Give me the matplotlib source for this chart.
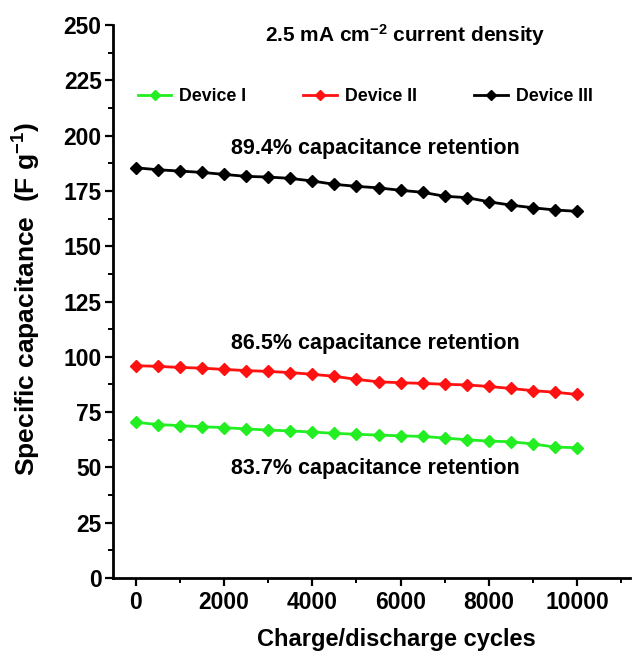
import numpy as np
import matplotlib.pyplot as plt
from matplotlib.ticker import MultipleLocator

plt.rcParams["font.family"] = ["Liberation Sans", "DejaVu Sans"]
plt.rcParams["font.weight"] = "bold"
plt.rcParams["mathtext.default"] = "regular"

cycles = np.arange(0, 10001, 500)
device_1 = [70.4, 69.4, 68.9, 68.4, 68.0, 67.4, 66.9, 66.5, 66.0, 65.4, 65.0,
            64.6, 64.3, 64.0, 63.3, 62.5, 61.9, 61.6, 60.6, 59.2, 58.9]
device_2 = [96.0, 95.7, 95.2, 94.9, 94.3, 93.8, 93.4, 92.9, 92.1, 91.2, 89.8,
            88.7, 88.3, 88.0, 87.6, 87.3, 86.6, 85.7, 84.7, 84.0, 83.0]
device_3 = [185.5, 184.6, 184.0, 183.4, 182.5, 181.6, 181.3, 180.7, 179.5, 178.0, 177.1,
            176.4, 175.3, 174.4, 172.6, 172.0, 170.1, 168.6, 167.4, 166.4, 165.8]
labels = ["Device I", "Device II", "Device III"]
colors = ["#22ee22", "#ff1111", "black"]
retention = ["83.7%", "86.5%", "89.4%"]

fig = plt.figure(figsize=(6.41, 6.52), dpi=100)
ax = fig.add_axes([0.176, 0.1135, 0.807, 0.848])

for ys, lab, c in zip([device_1, device_2, device_3], labels, colors):
    ax.plot(cycles, ys, color=c, linewidth=2, marker="D", markersize=6.3,
            label=lab)

ax.set_xlim(-520, 11200)
ax.set_ylim(0, 250)
ax.xaxis.set_major_locator(MultipleLocator(2000))
ax.xaxis.set_minor_locator(MultipleLocator(1000))
ax.yaxis.set_major_locator(MultipleLocator(25))
ax.yaxis.set_minor_locator(MultipleLocator(12.5))

for side in ["top", "right"]:
    ax.spines[side].set_visible(False)
for side in ["left", "bottom"]:
    ax.spines[side].set_linewidth(2)
ax.tick_params(which="major", direction="out", length=6, width=1.6, labelsize=16.5)
ax.tick_params(axis="y", which="major", pad=2)
ax.tick_params(which="minor", direction="out", length=3.5, width=1.4)
for lbl in ax.get_xticklabels() + ax.get_yticklabels():
    lbl.set_fontweight("bold")

ax.set_xlabel("Charge/discharge cycles", fontsize=17, fontweight="bold")
ax.set_ylabel(r"Specific capacitance  (F g$^{-1}$)", fontsize=19,
              fontweight="bold")
ax.xaxis.set_label_coords(0.549, -0.09)
ax.yaxis.set_label_coords(-0.135, 0.505)

ax.text(6100, 245.5, r"2.5 mA cm$^{-2}$ current density", fontsize=15,
        fontweight="bold", ha="center", va="center")
ax.text(5430, 194.4, retention[2] + " capacitance retention", fontsize=15.5,
        fontweight="bold", ha="center", va="center")
ax.text(5430, 106.2, retention[1] + " capacitance retention", fontsize=15.5,
        fontweight="bold", ha="center", va="center")
ax.text(5430, 49.7, retention[0] + " capacitance retention", fontsize=15.5,
        fontweight="bold", ha="center", va="center")

ax.legend(loc="center left", bbox_to_anchor=(0.048, 0.871), ncol=3, frameon=False,
          fontsize=12.8, handlelength=1.9, handletextpad=0.45, columnspacing=3.2,
          borderpad=0, borderaxespad=0, markerscale=0.8)

fig.savefig("out.png", dpi=100)
